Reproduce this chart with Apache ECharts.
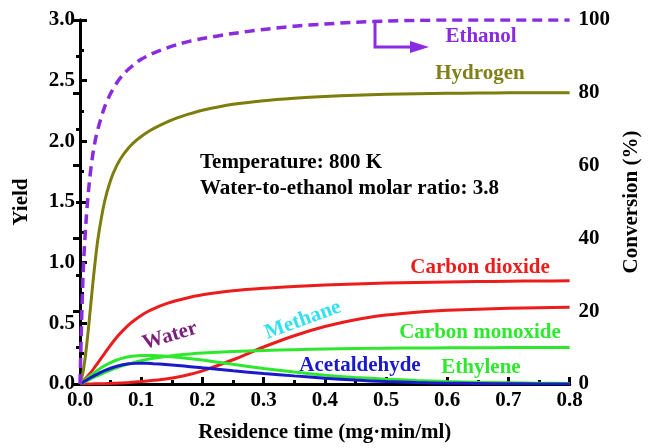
<!DOCTYPE html>
<html>
<head>
<meta charset="utf-8">
<script src="https://cdn.jsdelivr.net/npm/echarts@6/dist/echarts.min.js"></script>
<style>html,body{margin:0;padding:0;background:#fff}#c{width:650px;height:448px}</style>
</head>
<body>
<div id="c"></div>
<script>
// Residence time (mg·min/ml)
const xs = [0, 0.005, 0.01, 0.015, 0.02, 0.025, 0.03, 0.04, 0.05, 0.06, 0.07, 0.08, 0.09, 0.1, 0.11, 0.12, 0.14, 0.16, 0.18, 0.2, 0.25, 0.3, 0.35, 0.4, 0.45, 0.5, 0.55, 0.6, 0.65, 0.7, 0.75, 0.8];
// Ethanol conversion (%), right axis
const ethanolConv = [0, 30, 45, 55, 62, 67, 70.5, 76, 79.8, 82.7, 84.9, 86.6, 88.0, 89.2, 90.1, 90.9, 92.2, 93.3, 94.2, 94.9, 96.3, 97.4, 98.3, 98.9, 99.4, 99.7, 99.9, 100, 100, 100, 100, 100];
// Yields, left axis
const hydrogen = [0, 0.1, 0.28, 0.52, 0.78, 1.02, 1.22, 1.5, 1.68, 1.8, 1.885, 1.95, 2.0, 2.04, 2.075, 2.105, 2.155, 2.195, 2.228, 2.256, 2.305, 2.335, 2.355, 2.37, 2.38, 2.388, 2.393, 2.396, 2.398, 2.4, 2.4, 2.4];
const carbonDioxide = [0, 0.025, 0.05, 0.08, 0.11, 0.145, 0.18, 0.25, 0.32, 0.385, 0.44, 0.49, 0.53, 0.565, 0.595, 0.62, 0.66, 0.69, 0.715, 0.735, 0.768, 0.789, 0.804, 0.816, 0.825, 0.832, 0.837, 0.841, 0.844, 0.847, 0.849, 0.85];
const methane = [0, 0, 0, 0.001, 0.001, 0.002, 0.002, 0.003, 0.005, 0.007, 0.009, 0.012, 0.016, 0.02, 0.025, 0.03, 0.042, 0.058, 0.08, 0.108, 0.2, 0.305, 0.398, 0.474, 0.53, 0.568, 0.592, 0.607, 0.617, 0.624, 0.629, 0.633];
const carbonMonoxide = [0, 0.012, 0.024, 0.036, 0.048, 0.06, 0.072, 0.094, 0.115, 0.134, 0.151, 0.166, 0.18, 0.192, 0.203, 0.212, 0.227, 0.239, 0.248, 0.255, 0.267, 0.276, 0.283, 0.288, 0.292, 0.295, 0.297, 0.298, 0.299, 0.3, 0.3, 0.3];
const ethylene = [0, 0.02, 0.04, 0.06, 0.08, 0.1, 0.118, 0.15, 0.177, 0.198, 0.213, 0.224, 0.231, 0.234, 0.235, 0.234, 0.229, 0.22, 0.209, 0.197, 0.162, 0.128, 0.098, 0.073, 0.054, 0.04, 0.029, 0.02, 0.014, 0.01, 0.007, 0.005];
const acetaldehyde = [0, 0.015, 0.03, 0.045, 0.06, 0.073, 0.086, 0.11, 0.13, 0.146, 0.158, 0.166, 0.17, 0.171, 0.17, 0.167, 0.161, 0.153, 0.143, 0.133, 0.109, 0.087, 0.067, 0.048, 0.032, 0.02, 0.012, 0.007, 0.004, 0.002, 0.001, 0];

const xTicks = ['0.0','0.1','0.2','0.3','0.4','0.5','0.6','0.7','0.8'];
const yTicks = ['0.0','0.5','1.0','1.5','2.0','2.5','3.0'];
const y2Ticks = ['0','20','40','60','80','100'];

const FONT = '"Liberation Serif", "Times New Roman", serif';
const pair = (ys) => xs.map((x, i) => [x, ys[i]]);

const chart = echarts.init(document.getElementById('c'), null, {renderer: 'canvas'});
const axisStyle = {lineStyle: {color: '#000', width: 3}};
const tickStyle = {show: true, inside: true, length: 7, lineStyle: {color: '#000', width: 3}};
const minorStyle = {show: true, splitNumber: 2, length: 4, lineStyle: {color: '#000', width: 3}};
const lbl = {fontFamily: FONT, fontWeight: 'bold', fontSize: 21, color: '#000'};

function line(name, data, color, yIdx, dashed) {
  return {
    name, type: 'line', data, yAxisIndex: yIdx || 0, smooth: 0.3,
    symbol: 'none', z: dashed ? 5 : 3,
    lineStyle: {color, width: dashed ? 3.5 : 3, type: dashed ? [10, 6] : 'solid'}
  };
}

chart.setOption({
  animation: false,
  backgroundColor: '#fff',
  grid: {left: 80, right: 77, top: 20, bottom: 61},
  xAxis: [{
    type: 'value', min: 0, max: 0.8, interval: 0.1,
    name: 'Residence time (mg·min/ml)', nameLocation: 'middle', nameGap: 38,
    nameTextStyle: lbl,
    axisLine: axisStyle, axisTick: tickStyle, minorTick: minorStyle,
    splitLine: {show: false},
    axisLabel: Object.assign({margin: 6, formatter: (v) => xTicks[Math.round(v * 10)]}, lbl)
  }, {
    type: 'value', min: 0, max: 0.8, position: 'top',
    axisLine: axisStyle, axisTick: {show: false}, axisLabel: {show: false}, splitLine: {show: false}
  }],
  yAxis: [{
    type: 'value', min: 0, max: 3, interval: 0.5,
    name: 'Yield', nameLocation: 'middle', nameGap: 48, nameRotate: 90,
    nameTextStyle: lbl,
    axisLine: axisStyle, axisTick: tickStyle, minorTick: minorStyle,
    splitLine: {show: false},
    axisLabel: Object.assign({margin: 5, formatter: (v) => yTicks[Math.round(v * 2)]}, lbl)
  }, {
    type: 'value', min: 0, max: 100, interval: 20, position: 'right',
    name: 'Conversion (%)', nameLocation: 'middle', nameGap: 48, nameRotate: 90,
    nameTextStyle: lbl,
    axisLine: axisStyle, axisTick: tickStyle, minorTick: minorStyle,
    splitLine: {show: false},
    axisLabel: Object.assign({margin: 9, formatter: (v) => y2Ticks[Math.round(v / 20)]}, lbl)
  }],
  series: [
    line('Carbon dioxide', pair(carbonDioxide), '#ec1c1c'),
    line('Methane', pair(methane), '#ec1c1c'),
    line('Carbon monoxide', pair(carbonMonoxide), '#2ee82e'),
    line('Ethylene', pair(ethylene), '#2ee82e'),
    line('Acetaldehyde', pair(acetaldehyde), '#1a1acc'),
    line('Hydrogen', pair(hydrogen), '#7d7d0c'),
    line('Ethanol', pair(ethanolConv), '#8a2be2', 1, true)
  ],
  graphic: [
    {type: 'polyline', shape: {points: [[375, 21], [375, 47], [414, 47]]}, style: {stroke: '#8a2be2', lineWidth: 3, fill: null}, z: 10},
    {type: 'polygon', shape: {points: [[410, 41], [429, 47], [410, 53]]}, style: {fill: '#8a2be2'}, z: 10},
    {type: 'text', style: {text: 'Ethanol', x: 481, y: 37, align: 'center', verticalAlign: 'middle', font: 'bold 21px ' + FONT, fill: '#8a2be2'}, z: 10},
    {type: 'text', style: {text: 'Hydrogen', x: 480, y: 74, align: 'center', verticalAlign: 'middle', font: 'bold 21px ' + FONT, fill: '#80801a'}, z: 10},
    {type: 'text', style: {text: 'Temperature: 800 K', x: 200, y: 163, align: 'left', verticalAlign: 'middle', font: 'bold 21px ' + FONT, fill: '#000'}, z: 10},
    {type: 'text', style: {text: 'Water-to-ethanol molar ratio: 3.8', x: 200, y: 189, align: 'left', verticalAlign: 'middle', font: 'bold 21px ' + FONT, fill: '#000'}, z: 10},
    {type: 'text', style: {text: 'Carbon dioxide', x: 480, y: 268, align: 'center', verticalAlign: 'middle', font: 'bold 21px ' + FONT, fill: '#ec1c1c'}, z: 10},
    {type: 'text', style: {text: 'Carbon monoxide', x: 480, y: 333, align: 'center', verticalAlign: 'middle', font: 'bold 21px ' + FONT, fill: '#2ee82e'}, z: 10},
    {type: 'text', style: {text: 'Ethylene', x: 481, y: 368, align: 'center', verticalAlign: 'middle', font: 'bold 21px ' + FONT, fill: '#2ee82e'}, z: 10},
    {type: 'text', style: {text: 'Acetaldehyde', x: 360, y: 366, align: 'center', verticalAlign: 'middle', font: 'bold 21px ' + FONT, fill: '#1a1acc'}, z: 10},
    {type: 'text', x: 303, y: 320, rotation: 20 * Math.PI / 180, style: {text: 'Methane', x: 0, y: 0, align: 'center', verticalAlign: 'middle', font: 'bold 21px ' + FONT, fill: '#33e0ee'}, z: 10},
    {type: 'text', x: 170, y: 336, rotation: 17 * Math.PI / 180, style: {text: 'Water', x: 0, y: 0, align: 'center', verticalAlign: 'middle', font: 'bold 21px ' + FONT, fill: '#7a1f7a'}, z: 10}
  ]
});
</script>
</body>
</html>
